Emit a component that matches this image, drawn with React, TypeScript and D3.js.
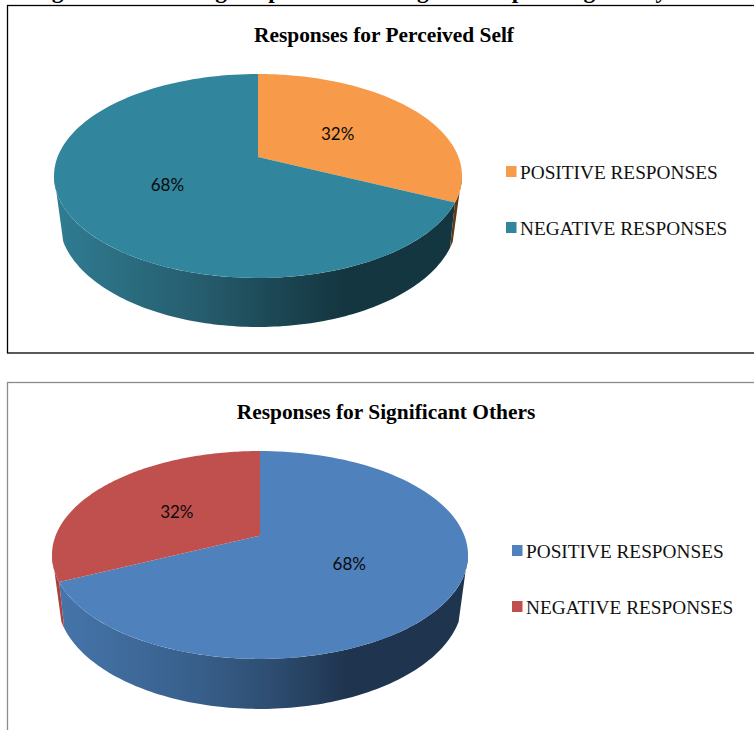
import React from "react";
import * as d3 from "d3";

// Slice data for the two survey charts
const responseLabels = ["POSITIVE RESPONSES", "NEGATIVE RESPONSES"];
const perceivedSelfValues = [32, 68];
const significantOthersValues = [68, 32];

const W = 754;
const H = 730;
const SERIF = "'Liberation Serif', 'Times New Roman', serif";
const LABEL_FONT = "Lato, 'Open Sans', sans-serif";

type Slice = { top: string; wall: [number, string][] };

type PieSpec = {
  id: string;
  title: string;
  titleX: number;
  titleY: number;
  values: number[];
  slices: Slice[];
  swatches: string[];
  cx: number;
  topY: number;
  rx: number;
  legendX: number;
  legendY: number[];
};

const orangeWall: [number, string][] = [[0, "#8a5220"], [1, "#5f3814"]];
const tealWall: [number, string][] = [[0, "#2f7b91"], [0.36, "#265c6d"], [0.52, "#1d4a57"], [0.72, "#143640"], [1, "#143640"]];
const blueWall: [number, string][] = [[0, "#4675ab"], [0.36, "#375e89"], [0.52, "#2e4e72"], [0.72, "#1f344e"], [1, "#1f344e"]];
const redWall: [number, string][] = [[0, "#a8423f"], [1, "#953a37"]];

const specs: PieSpec[] = [
  {
    id: "self",
    title: "Responses for Perceived Self",
    titleX: 384,
    titleY: 42,
    values: perceivedSelfValues,
    slices: [
      { top: "#F79A49", wall: orangeWall },
      { top: "#31859C", wall: tealWall },
    ],
    swatches: ["#F79A49", "#31859C"],
    cx: 258,
    topY: 74,
    rx: 204,
    legendX: 506,
    legendY: [172, 228],
  },
  {
    id: "others",
    title: "Responses for Significant Others",
    titleX: 386,
    titleY: 419,
    values: significantOthersValues,
    slices: [
      { top: "#4F81BD", wall: blueWall },
      { top: "#C0504D", wall: redWall },
    ],
    swatches: ["#4F81BD", "#C0504D"],
    cx: 260,
    topY: 451,
    rx: 208,
    legendX: 512,
    legendY: [551, 607],
  },
];

// Perspective constants for the tilted disc
const P = 0.186;
const WALL_SX = 0.975;
const WALL_SY = 1.05;

const deg = (d: number) => (d * Math.PI) / 180;

function PieChart({ spec }: { spec: PieSpec }) {
  const k = spec.rx / 204;
  const R = spec.rx * Math.sqrt(1 - P * P);
  const S = 83 * k * (1 + P);
  const y0 = spec.topY + 83 * k;
  const y0Wall = y0 + 43 * k;

  const project = (theta: number, r = 1) => {
    const u = r * Math.sin(theta);
    const v = -r * Math.cos(theta);
    const w = 1 - P * v;
    return { x: (R * u) / w, y: (S * v) / w };
  };
  const topPoint = (theta: number, r = 1): [number, number] => {
    const p = project(theta, r);
    return [spec.cx + p.x, y0 + p.y];
  };
  const wallPoint = (theta: number): [number, number] => {
    const p = project(theta);
    return [spec.cx + WALL_SX * p.x, y0Wall + WALL_SY * p.y];
  };

  const arcs = d3.pie<number>().sort(null).startAngle(0).endAngle(2 * Math.PI)(spec.values);
  const line = d3.line();
  const samples = (a: number, b: number) => d3.range(0, 121).map((i) => a + ((b - a) * i) / 120);

  // The wall silhouette joins the upper rim and the lower rim at different angles
  const upperRim = [deg(100), deg(260)];
  const lowerRim = [deg(112), deg(248)];

  return (
    <g>
      <defs>
        {spec.slices.map((s, i) => (
          <linearGradient
            key={i}
            id={`${spec.id}-wall-${i}`}
            gradientUnits="userSpaceOnUse"
            x1={spec.cx - spec.rx * 0.97}
            x2={spec.cx + spec.rx * 0.97}
            y1={0}
            y2={0}
          >
            {s.wall.map(([o, c]) => (
              <stop key={o} offset={o} stopColor={c} />
            ))}
          </linearGradient>
        ))}
      </defs>

      {arcs.map((a, i) => {
        const upperFrom = Math.max(a.startAngle, upperRim[0]);
        const upperTo = Math.min(a.endAngle, upperRim[1]);
        const lowerFrom = Math.max(a.startAngle, lowerRim[0]);
        const lowerTo = Math.min(a.endAngle, lowerRim[1]);
        const upper = samples(upperFrom, upperTo).map((v) => topPoint(v));
        const lower = samples(lowerFrom, lowerTo).map((v) => wallPoint(v)).reverse();
        return <path key={i} d={`${line([...upper, ...lower])}Z`} fill={`url(#${spec.id}-wall-${i})`} />;
      })}

      {arcs.map((a, i) => {
        const rim = samples(a.startAngle, a.endAngle).map((t) => topPoint(t));
        return <path key={i} d={`${line([[spec.cx, y0], ...rim])}Z`} fill={spec.slices[i].top} />;
      })}

      {arcs.map((a, i) => {
        const mid = (a.startAngle + a.endAngle) / 2;
        const [x, y] = topPoint(mid, 0.5);
        // Labels on the far half of the disc sit slightly lower
        const nudge = Math.cos(mid) > 0 ? 2.5 : 0;
        return (
          <text
            key={i}
            x={x - (Math.cos(mid) > 0 ? 1 : 1.5)}
            y={y + nudge}
            dy="0.35em"
            textAnchor="middle"
            fontFamily={LABEL_FONT}
            fontSize={17}
            fill="#0a0a0a"
          >
            {a.data}%
          </text>
        );
      })}

      <text x={spec.titleX} y={spec.titleY} textAnchor="middle" fontFamily={SERIF} fontWeight="bold" fontSize={21.4} fill="#000">
        {spec.title}
      </text>

      {responseLabels.map((label, i) => (
        <g key={label}>
          <rect x={spec.legendX} y={spec.legendY[i] - 6} width={10.5} height={11} fill={spec.swatches[i]} />
          <text x={spec.legendX + 14} y={spec.legendY[i] + 7} fontFamily={SERIF} fontSize={19.3} fill="#111">
            {label}
          </text>
        </g>
      ))}
    </g>
  );
}

export default function App() {
  return (
    <svg
      width={W}
      height={H}
      viewBox={`0 0 ${W} ${H}`}
      style={{ position: "absolute", left: 0, top: 0, background: "#fff", display: "block" }}
    >
      <text x={31} y={-2.5} fontFamily={SERIF} fontWeight="bold" fontSize={23.3} fill="#000">
        Figure 4: Percentage of positive and negative responses given by adolescents
      </text>

      <rect x={7.5} y={5.5} width={W} height={347.5} fill="none" stroke="#000" strokeWidth={1.3} />
      <rect x={7.5} y={382.5} width={W} height={H} fill="none" stroke="#8c8c8c" strokeWidth={1.3} />

      {specs.map((s) => (
        <PieChart key={s.id} spec={s} />
      ))}
    </svg>
  );
}
